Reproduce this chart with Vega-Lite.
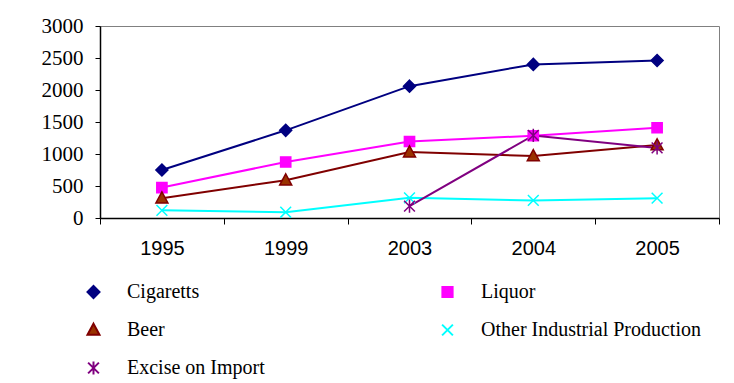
{
  "$schema": "https://vega.github.io/schema/vega-lite/v6.json",
  "width": 619,
  "height": 192,
  "autosize": {"type": "none"},
  "padding": {"left": 100, "top": 26, "right": 15, "bottom": 165},
  "background": "white",
  "config": {
    "view": {"stroke": "#808080", "strokeWidth": 1},
    "axis": {"grid": false, "title": null, "domainColor": "black", "domainWidth": 1.5, "tickColor": "black", "tickWidth": 1, "labelColor": "black"},
    "axisY": {"labelFont": "Liberation Serif", "labelFontSize": 21},
    "axisX": {"labelFont": "Liberation Sans", "labelFontSize": 20},
    "legend": {
      "title": null,
      "orient": "none",
      "legendX": -16.5,
      "legendY": 256,
      "direction": "horizontal",
      "columns": 2,
      "columnPadding": 172,
      "rowPadding": 17,
      "padding": 0,
      "symbolSize": 144,
      "symbolOffset": 0,
      "symbolStrokeWidth": 2,
      "labelOffset": 23.5,
      "labelFont": "Liberation Serif",
      "labelFontSize": 20,
      "labelColor": "black",
      "labelLimit": 400
    }
  },
  "data": {
    "values": [
      {"year": "1995", "series": "Cigaretts", "value": 750},
      {"year": "1999", "series": "Cigaretts", "value": 1370},
      {"year": "2003", "series": "Cigaretts", "value": 2060},
      {"year": "2004", "series": "Cigaretts", "value": 2400},
      {"year": "2005", "series": "Cigaretts", "value": 2460},
      {"year": "1995", "series": "Liquor", "value": 475},
      {"year": "1999", "series": "Liquor", "value": 875},
      {"year": "2003", "series": "Liquor", "value": 1195},
      {"year": "2004", "series": "Liquor", "value": 1285},
      {"year": "2005", "series": "Liquor", "value": 1410},
      {"year": "1995", "series": "Beer", "value": 310},
      {"year": "1999", "series": "Beer", "value": 590},
      {"year": "2003", "series": "Beer", "value": 1030},
      {"year": "2004", "series": "Beer", "value": 970},
      {"year": "2005", "series": "Beer", "value": 1140},
      {"year": "1995", "series": "Other Industrial Production", "value": 120},
      {"year": "1999", "series": "Other Industrial Production", "value": 90},
      {"year": "2003", "series": "Other Industrial Production", "value": 315},
      {"year": "2004", "series": "Other Industrial Production", "value": 275},
      {"year": "2005", "series": "Other Industrial Production", "value": 310},
      {"year": "2003", "series": "Excise on Import", "value": 185},
      {"year": "2004", "series": "Excise on Import", "value": 1290},
      {"year": "2005", "series": "Excise on Import", "value": 1095}
    ]
  },
  "encoding": {
    "x": {
      "field": "year", "type": "nominal",
      "scale": {"type": "band", "paddingInner": 0, "paddingOuter": 0},
      "axis": {"labelAngle": 0, "labelFont": "Liberation Sans", "labelFontSize": 20, "tickBand": "extent", "tickSize": 6, "labelPadding": 14}
    },
    "y": {
      "field": "value", "type": "quantitative",
      "scale": {"domain": [0, 3000], "nice": false},
      "axis": {"values": [0, 500, 1000, 1500, 2000, 2500, 3000], "format": "d", "labelFont": "Liberation Serif", "labelFontSize": 21, "tickSize": 5, "labelPadding": 12}
    }
  },
  "layer": [
    {
      "mark": {"type": "line", "strokeWidth": 2},
      "encoding": {
        "stroke": {
          "field": "series", "type": "nominal",
          "scale": {"domain": ["Cigaretts", "Liquor", "Beer", "Other Industrial Production", "Excise on Import"], "range": ["#000080", "#FF00FF", "#800000", "#00FFFF", "#800080"]}
        }
      }
    },
    {
      "mark": {"type": "point", "size": 144, "opacity": 1, "strokeWidth": 1.5, "filled": false},
      "encoding": {
        "stroke": {"field": "series", "type": "nominal"},
        "fill": {
          "field": "series", "type": "nominal",
          "scale": {"domain": ["Cigaretts", "Liquor", "Beer", "Other Industrial Production", "Excise on Import"], "range": ["#000080", "#FF00FF", "#993300", "transparent", "transparent"]}
        },
        "shape": {
          "field": "series", "type": "nominal",
          "scale": {
            "domain": ["Cigaretts", "Liquor", "Beer", "Other Industrial Production", "Excise on Import"],
            "range": [
              "M0,-1L1,0L0,1L-1,0Z",
              "M-0.85,-0.85L0.85,-0.85L0.85,0.85L-0.85,0.85Z",
              "M0,-1.05L1,0.8L-1,0.8Z",
              "M-0.9,-0.9L0.9,0.9M-0.9,0.9L0.9,-0.9",
              "M-0.9,-0.9L0.9,0.9M-0.9,0.9L0.9,-0.9M0,-1.1L0,1.1"
            ]
          }
        }
      }
    }
  ]
}
